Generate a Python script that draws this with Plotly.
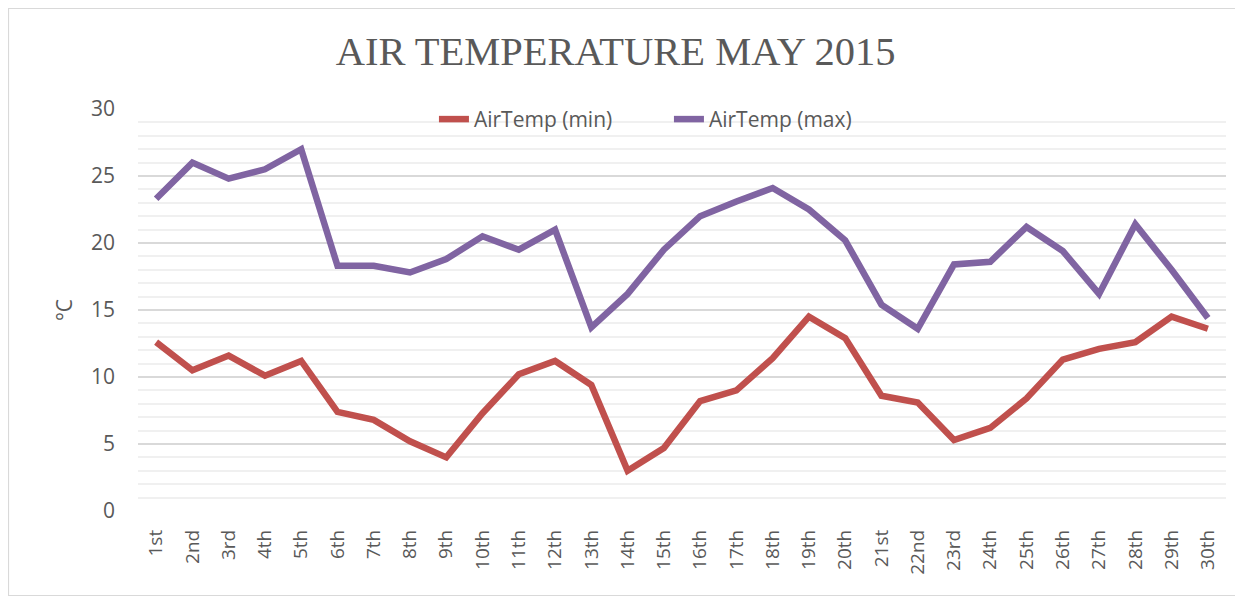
import plotly.graph_objects as go

days = ["1st", "2nd", "3rd", "4th", "5th", "6th", "7th", "8th", "9th", "10th",
        "11th", "12th", "13th", "14th", "15th", "16th", "17th", "18th", "19th", "20th",
        "21st", "22nd", "23rd", "24th", "25th", "26th", "27th", "28th", "29th", "30th"]

air_min = [12.6, 10.5, 11.6, 10.1, 11.2, 7.4, 6.8, 5.2, 4.0, 7.3,
           10.2, 11.2, 9.4, 3.0, 4.7, 8.2, 9.0, 11.4, 14.5, 12.9,
           8.6, 8.1, 5.3, 6.2, 8.4, 11.3, 12.1, 12.6, 14.5, 13.6]

air_max = [23.3, 26.0, 24.8, 25.5, 27.0, 18.3, 18.3, 17.8, 18.8, 20.5,
           19.5, 21.0, 13.7, 16.2, 19.5, 22.0, 23.1, 24.1, 22.5, 20.2,
           15.4, 13.6, 18.4, 18.6, 21.2, 19.4, 16.2, 21.4, 18.0, 14.4]

title_text = "AIR TEMPERATURE MAY 2015"
y_title = "°C"

text_color = "#595959"
sans = "Open Sans, Liberation Sans, sans-serif"

W, H = 1235, 588

fig = go.Figure()
fig.add_trace(go.Scatter(x=days, y=air_min, mode="lines", name="AirTemp (min)",
                         line=dict(color="#C0504D", width=6.5)))
fig.add_trace(go.Scatter(x=days, y=air_max, mode="lines", name="AirTemp (max)",
                         line=dict(color="#8064A2", width=6.5)))

fig.update_layout(
    width=W, height=H,
    margin=dict(l=130, r=17, t=101, b=85),
    paper_bgcolor="white", plot_bgcolor="white",
    title=dict(text=title_text, x=0.492, xanchor="center", xref="container",
               y=1 - 43 / H, yanchor="middle", yref="container",
               font=dict(family="Liberation Serif, DejaVu Serif, serif", size=40.5, color=text_color)),
    legend=dict(orientation="h", x=0.488, xanchor="center", y=1.025, yanchor="top",
                bgcolor="rgba(0,0,0,0)", font=dict(family=sans, size=21, color=text_color),
                itemwidth=30, tracegroupgap=0, entrywidth=190, entrywidthmode="pixels"),
    xaxis=dict(type="category", range=[-0.5, 29.5], tickangle=-90, showgrid=False,
               showline=False, ticks="", zeroline=False, ticklabelstandoff=14,
               tickfont=dict(family=sans, size=19, color=text_color)),
    yaxis=dict(range=[0, 30], dtick=5, tick0=0, showgrid=True, gridcolor="#D9D9D9", gridwidth=1.5,
               zeroline=False, showline=False, ticks="", ticklabelstandoff=22,
               tickfont=dict(family=sans, size=21, color=text_color),
               minor=dict(dtick=1, showgrid=True, gridcolor="#F0F0F0", gridwidth=1.5),
               title=dict(text=y_title, font=dict(family=sans, size=21, color=text_color), standoff=12)),
    showlegend=True,
)

fig.add_shape(type="rect", xref="paper", yref="paper",
              x0=-129.5 / 1088, x1=1.0 + 14 / 1088, y0=-84.5 / 402, y1=1.0 + 100.5 / 402,
              line=dict(color="#D9D9D9", width=1.2), fillcolor="rgba(0,0,0,0)", layer="below")

fig.write_html("out.html")
